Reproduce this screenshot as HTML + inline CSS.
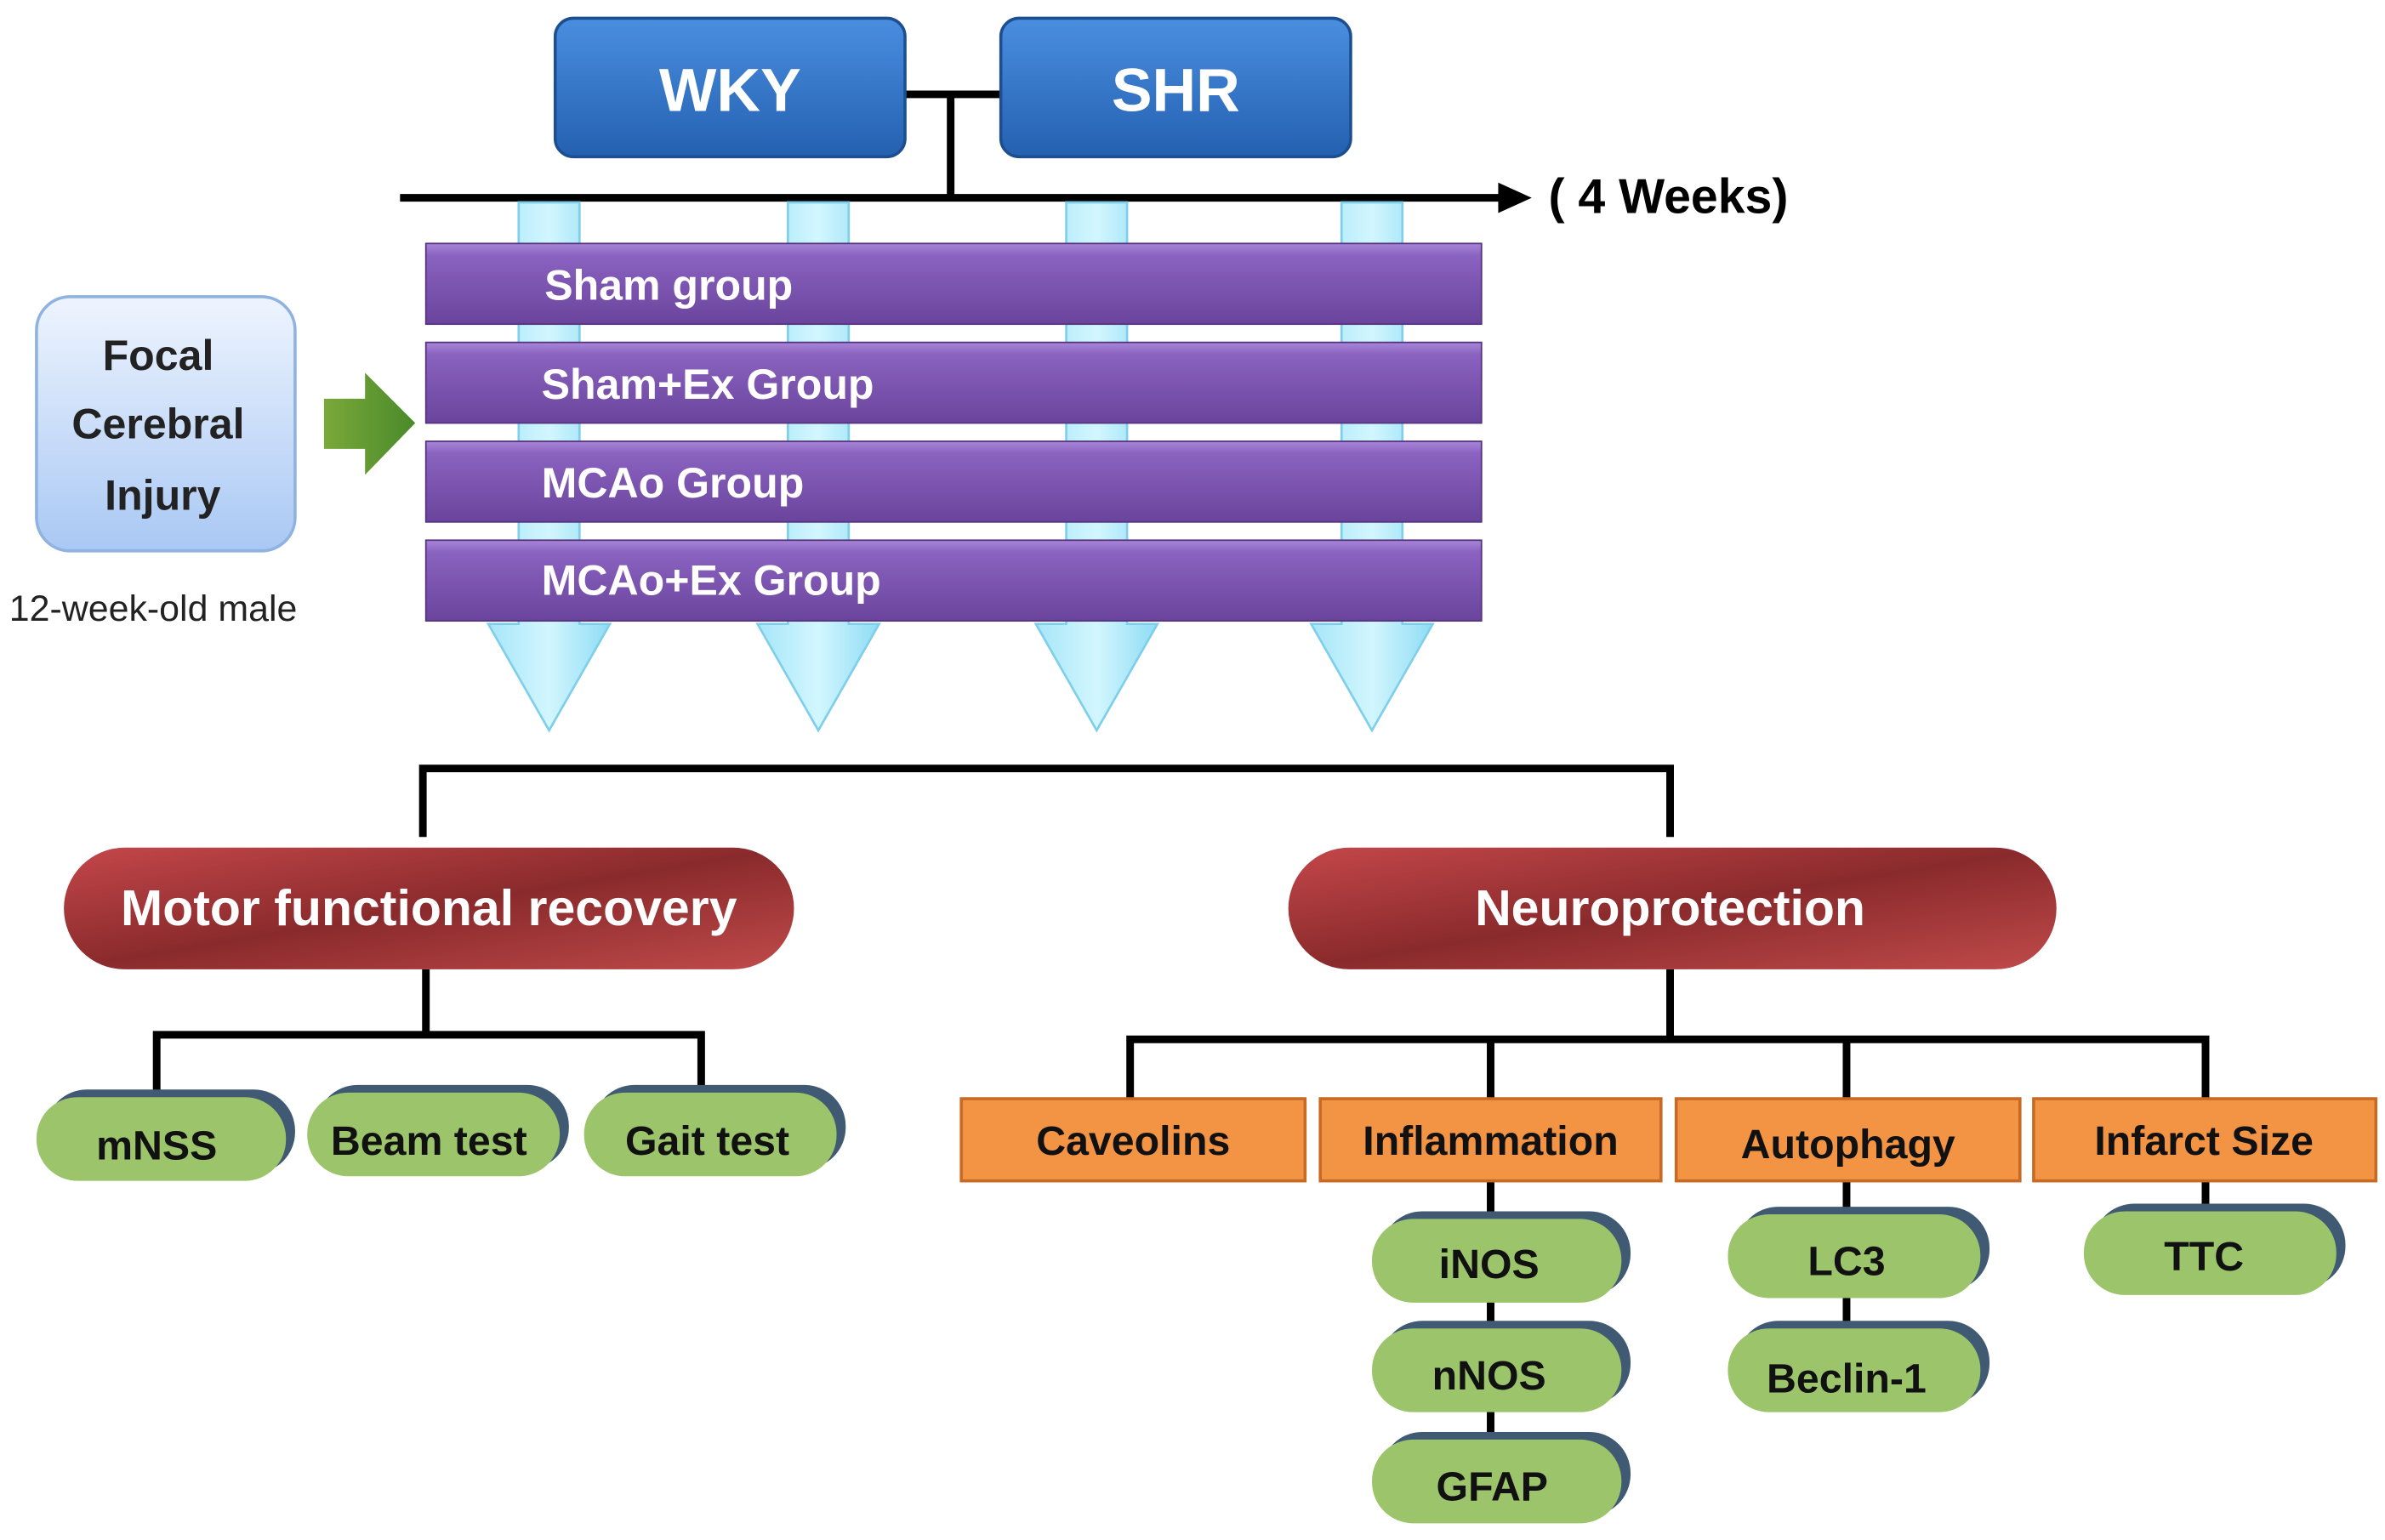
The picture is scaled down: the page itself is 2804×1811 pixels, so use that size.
<!DOCTYPE html>
<html><head><meta charset="utf-8"><style>
html,body{margin:0;padding:0;background:#fff;width:2804px;height:1811px;overflow:hidden}
svg{display:block}
text{font-family:"Liberation Sans",sans-serif;font-weight:bold}
</style></head><body>
<svg width="2804" height="1811" viewBox="0 0 1568 1012" preserveAspectRatio="none">
<defs>
<linearGradient id="blue" x1="0" y1="0" x2="0" y2="1"><stop offset="0" stop-color="#4a8ee0"/><stop offset="1" stop-color="#2460b0"/></linearGradient>
<linearGradient id="purp" x1="0" y1="0" x2="0" y2="1"><stop offset="0" stop-color="#a886d8"/><stop offset="0.15" stop-color="#8a62c0"/><stop offset="1" stop-color="#6a449c"/></linearGradient>
<linearGradient id="lb" x1="0" y1="0" x2="0" y2="1"><stop offset="0" stop-color="#eef4fe"/><stop offset="1" stop-color="#a9c8f4"/></linearGradient>
<linearGradient id="red" x1="0" y1="0" x2="1" y2="1"><stop offset="0" stop-color="#c4474a"/><stop offset="0.5" stop-color="#8a2a2c"/><stop offset="1" stop-color="#c04a4a"/></linearGradient>
<linearGradient id="grn" x1="0" y1="0" x2="1" y2="0"><stop offset="0" stop-color="#7aa83a"/><stop offset="1" stop-color="#4a8a2a"/></linearGradient>
<linearGradient id="cy" x1="0" y1="0" x2="1" y2="0"><stop offset="0" stop-color="#a6e6f8"/><stop offset="0.5" stop-color="#d2f6fe"/><stop offset="1" stop-color="#8edcf4"/></linearGradient>
</defs>
<g stroke="#000" stroke-width="5" fill="none">
<path d="M595 62H658M625 62V130"/>
<path d="M263 130H990"/>
</g>
<path d="M985 120L1007 130L985 140Z" fill="#000"/>
<text x="1018" y="140" font-size="32" fill="#000">( 4 Weeks)</text>
<g fill="url(#cy)" stroke="#7fcfea" stroke-width="1.5">
<path d="M341 133H381V410H401L361 480L321 410H341Z"/>
<path d="M518 133H558V410H578L538 480L498 410H518Z"/>
<path d="M701 133H741V410H761L721 480L681 410H701Z"/>
<path d="M882 133H922V410H942L902 480L862 410H882Z"/>
</g>
<rect x="365" y="12" width="230" height="91" rx="12" fill="url(#blue)" stroke="#1d4f90" stroke-width="2"/>
<rect x="658" y="12" width="230" height="91" rx="12" fill="url(#blue)" stroke="#1d4f90" stroke-width="2"/>
<text x="480" y="73" font-size="40" fill="#fff" text-anchor="middle">WKY</text>
<text x="773" y="73" font-size="40" fill="#fff" text-anchor="middle">SHR</text>
<g fill="url(#purp)" stroke="#553380" stroke-width="1">
<rect x="280" y="160" width="694" height="53"/>
<rect x="280" y="225" width="694" height="53"/>
<rect x="280" y="290" width="694" height="53"/>
<rect x="280" y="355" width="694" height="53"/>
</g>
<g font-size="28" fill="#fff">
<text x="358" y="197">Sham group</text>
<text x="356" y="262">Sham+Ex  Group</text>
<text x="356" y="327">MCAo Group</text>
<text x="356" y="391">MCAo+Ex Group</text>
</g>
<rect x="24" y="195" width="170" height="167" rx="22" fill="url(#lb)" stroke="#8fb2e0" stroke-width="2"/>
<g font-size="28" fill="#222" text-anchor="middle">
<text x="104" y="243">Focal</text>
<text x="104" y="288">Cerebral</text>
<text x="107" y="335">Injury</text>
</g>
<text x="6" y="408" font-size="24" fill="#222" style="font-weight:normal">12-week-old male</text>
<path d="M213 262H240V245L273 278L240 312V295H213Z" fill="url(#grn)"/>
<g stroke="#000" stroke-width="5" fill="none">
<path d="M278 550V505H1098V550"/>
<path d="M280 637V680M103 720V680H461V720"/>
<path d="M1098 637V683M743 722V683H1450V722M980 683V722M1214 683V722"/>
<path d="M980 776V960M1214 776V890M1450 776V810"/>
</g>
<rect x="42" y="557" width="480" height="80" rx="40" fill="url(#red)"/>
<rect x="847" y="557" width="505" height="80" rx="40" fill="url(#red)"/>
<text x="282" y="608" font-size="33" fill="#fff" text-anchor="middle">Motor functional recovery</text>
<text x="1098" y="608" font-size="33" fill="#fff" text-anchor="middle">Neuroprotection</text>
<g fill="#f39444" stroke="#c96a24" stroke-width="2">
<rect x="632" y="722" width="226" height="54"/>
<rect x="868" y="722" width="224" height="54"/>
<rect x="1102" y="722" width="226" height="54"/>
<rect x="1337" y="722" width="225" height="54"/>
</g>
<g font-size="27" fill="#111" text-anchor="middle">
<text x="745" y="759">Caveolins</text>
<text x="980" y="759">Inflammation</text>
<text x="1215" y="761">Autophagy</text>
<text x="1449" y="759">Infarct Size</text>
</g>
<g>
<g><rect x="30" y="716" width="164" height="55" rx="27" fill="#3f5a72"/><rect x="24" y="721" width="164" height="55" rx="27" fill="#9cc46a"/></g>
<g><rect x="208" y="713" width="166" height="55" rx="27" fill="#3f5a72"/><rect x="202" y="718" width="166" height="55" rx="27" fill="#9cc46a"/></g>
<g><rect x="390" y="713" width="166" height="55" rx="27" fill="#3f5a72"/><rect x="384" y="718" width="166" height="55" rx="27" fill="#9cc46a"/></g>
<g><rect x="908" y="796" width="164" height="55" rx="27" fill="#3f5a72"/><rect x="902" y="801" width="164" height="55" rx="27" fill="#9cc46a"/></g>
<g><rect x="908" y="868" width="164" height="55" rx="27" fill="#3f5a72"/><rect x="902" y="873" width="164" height="55" rx="27" fill="#9cc46a"/></g>
<g><rect x="908" y="941" width="164" height="55" rx="27" fill="#3f5a72"/><rect x="902" y="946" width="164" height="55" rx="27" fill="#9cc46a"/></g>
<g><rect x="1142" y="793" width="166" height="55" rx="27" fill="#3f5a72"/><rect x="1136" y="798" width="166" height="55" rx="27" fill="#9cc46a"/></g>
<g><rect x="1142" y="868" width="166" height="55" rx="27" fill="#3f5a72"/><rect x="1136" y="873" width="166" height="55" rx="27" fill="#9cc46a"/></g>
<g><rect x="1376" y="791" width="166" height="55" rx="27" fill="#3f5a72"/><rect x="1370" y="796" width="166" height="55" rx="27" fill="#9cc46a"/></g>
</g>
<g font-size="27" fill="#111" text-anchor="middle">
<text x="103" y="762">mNSS</text>
<text x="282" y="759">Beam test</text>
<text x="465" y="759">Gait test</text>
<text x="979" y="840">iNOS</text>
<text x="979" y="913">nNOS</text>
<text x="981" y="986">GFAP</text>
<text x="1214" y="838">LC3</text>
<text x="1214" y="915">Beclin-1</text>
<text x="1449" y="835">TTC</text>
</g>
</svg>
</body></html>
